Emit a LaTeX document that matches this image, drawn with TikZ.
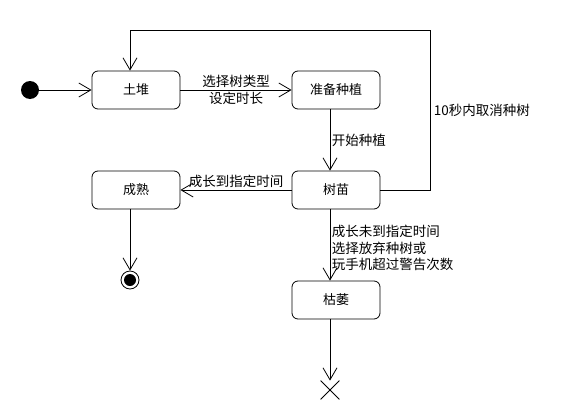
\documentclass[tikz,border=0pt]{standalone}
\usepackage{fontspec}
\setmainfont{Noto Sans CJK SC}
\usetikzlibrary{arrows.meta,shapes.misc,positioning,calc}

\begin{document}
\begin{tikzpicture}
[x=1pt,y=-1pt,
edge/.style={black,line width=.8pt,-{Straight Barb[length=12pt,width=14pt,line width=.8pt]}},
state/.style={draw=black,line width=.8pt,rounded corners=6pt,minimum width=88pt,minimum height=38pt,font=\fontsize{13}{16}\selectfont},
lbl/.style={font=\fontsize{13.5}{16.5}\selectfont,inner sep=1.5pt}]
\useasboundingbox (0,0) rectangle (570,420);
%%
\node[circle,fill=black,minimum size=18pt,inner sep=0pt] (init) at (30,90) {};
\node[state] (tudui) at (136,90) {土堆};
\node[state] (zhunbei) at (336,90) {准备种植};
\node[state] (shumiao) at (336,190) {树苗};
\node[state] (chengshu) at (136,190) {成熟};
\node[state] (kuwei) at (336,300) {枯萎};
%%
\node[circle,draw,line width=.8pt,minimum size=18pt,inner sep=0pt] (final) at (130,280) {};
\node[circle,fill=black,minimum size=12pt,inner sep=0pt] at (final) {};
\node[cross out,draw,line width=.8pt,minimum size=18pt,inner sep=0pt] (term) at (330,390) {};
\coordinate (loop) at (430,30);
%%
\draw[edge] (init) -- (tudui);
\draw[edge] (tudui) -- node[lbl,align=center] {选择树类型\\设定时长} (zhunbei);
\draw[edge] ([xshift=-6pt]zhunbei.south) -- node[lbl,right] {开始种植} ([xshift=-6pt]shumiao.north);
\draw[edge] (shumiao) -- node[lbl,above] {成长到指定时间} (chengshu);
\draw[edge] ([xshift=-6pt]chengshu.south) -- (final);
\draw[edge] ([xshift=-6pt]shumiao.south) -- node[lbl,right,align=left,yshift=-3pt] {成长未到指定时间\\选择放弃种树或\\玩手机超过警告次数} ([xshift=-6pt]kuwei.north);
\draw[edge] ([xshift=-6pt]kuwei.south) -- (term);
\draw[edge] (shumiao.east) -| node[lbl,pos=.75,right,xshift=2pt] {10秒内取消种树} (loop) -| ([xshift=-6pt]tudui.north);
\end{tikzpicture}
\end{document}
